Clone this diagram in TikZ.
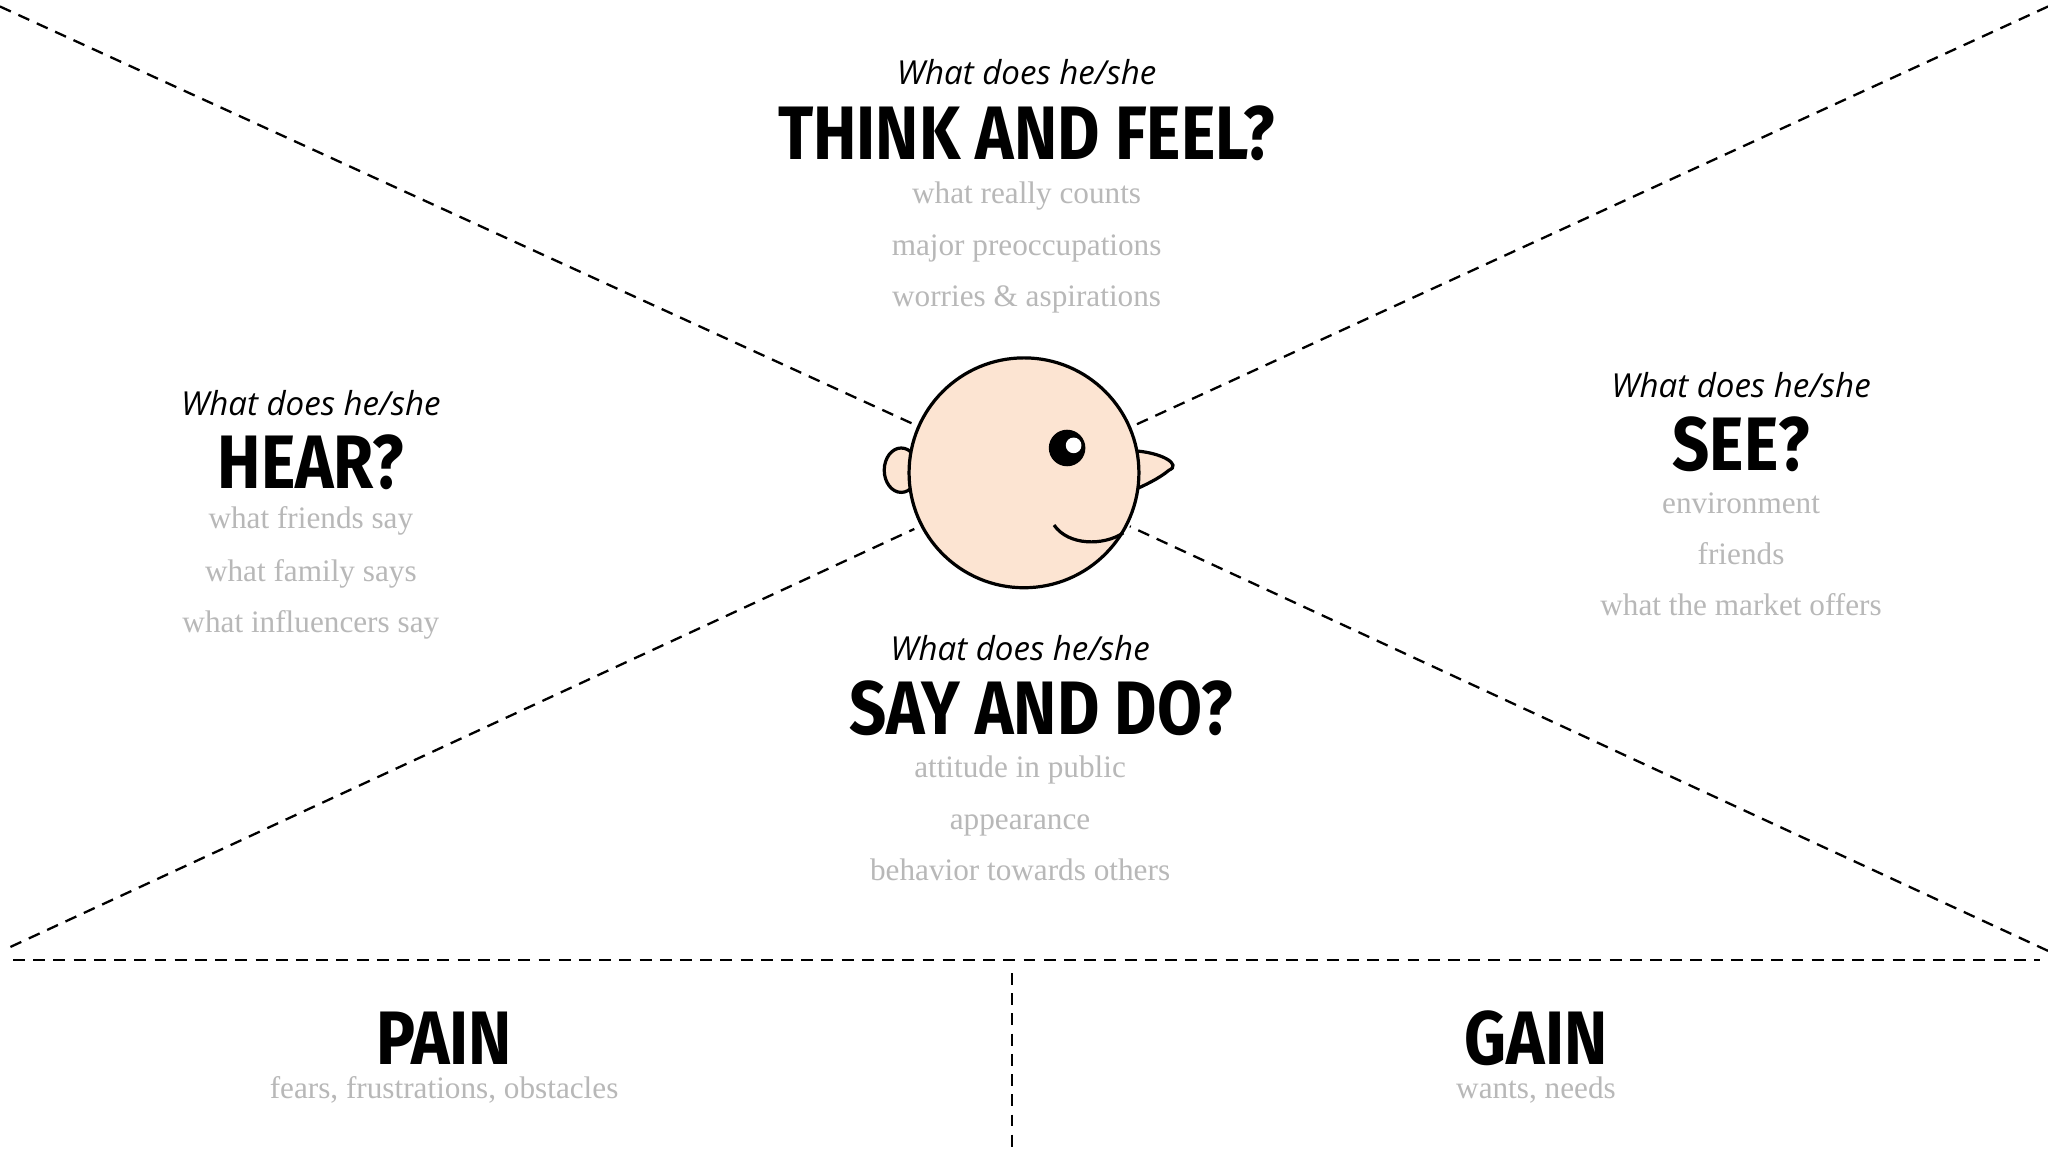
\documentclass[tikz,border=0pt]{standalone}
\usepackage{fontspec}
\setmainfont{Liberation Serif}
\newfontfamily\titlef[FakeStretch=0.86]{Fira Sans}
\newfontfamily\itf{Open Sans}
\definecolor{peach}{HTML}{FCE4D2}
\definecolor{greytxt}{HTML}{B8B8B8}
\tikzset{
 dline/.style={dash pattern=on 2.6pt off 1.8pt,line width=0.5pt},
 qtxt/.style={font=\itf\itshape\fontsize{7.2}{8}\selectfont,inner sep=0,anchor=base},
 ttl/.style={font=\titlef\bfseries\fontsize{16.5}{18}\selectfont,inner sep=0,anchor=base},
 sub/.style={font=\fontsize{6.8}{7}\selectfont,text=greytxt,inner sep=0,anchor=base},
}
\begin{document}
\begin{tikzpicture}[x=0.01cm,y=-0.01cm]
\useasboundingbox[fill=white] (0,0) rectangle (1568,882);
% lines
\coordinate (tl) at (0,5); \coordinate (tr) at (1568,5);
\coordinate (bl) at (8,725); \coordinate (br) at (1568,728);
\coordinate (ftl) at (700,325); \coordinate (ftr) at (870,325);
\coordinate (fbl) at (700,405); \coordinate (fbr) at (865,403);
\draw[dline] (tl)--(ftl); \draw[dline] (tr)--(ftr);
\draw[dline] (bl)--(fbl); \draw[dline] (br)--(fbr);
\coordinate (hl) at (10,735); \coordinate (hr) at (1562,735);
\draw[dline] (hl)--(hr);
\coordinate (vt) at (775,745); \coordinate (vb) at (775,882);
\draw[dline] (vt)--(vb);
% face
\draw[fill=peach,line width=0.7pt] (690,360) ellipse [x radius=13,y radius=17];
\draw[fill=peach,line width=0.7pt] (866,345) .. controls (890,346) and (905,356) .. (895,360) .. controls (888,366) and (876,372) .. (866,376) -- cycle;
\node[circle,draw,line width=0.7pt,fill=peach,minimum size=176*0.01cm,inner sep=0] (face) at (784,362) {};
\fill (817,343) circle (14);
\fill[white] (822,341) circle (6);
\draw[line width=0.7pt] (807,402) .. controls (818,418) and (845,418) .. (860,408);
% texts
\node[qtxt] (q1) at (786,65) {What does he/she};
\node[ttl] (t1) at (786,122) {THINK AND FEEL?};
\node[sub] (s1) at (786,156) {what really counts};
\node[sub] (s1b) at (786,196) {major preoccupations};
\node[sub] (s1c) at (786,235) {worries \& aspirations};
\node[qtxt] (q2) at (238,318) {What does he/she};
\node[ttl] (t2) at (238,374) {HEAR?};
\node[sub] (s2) at (238,405) {what friends say};
\node[sub] (s2b) at (238,445) {what family says};
\node[sub] (s2c) at (238,484) {what influencers say};
\node[qtxt] (q3) at (1333,304) {What does he/she};
\node[ttl] (t3) at (1333,360) {SEE?};
\node[sub] (s3) at (1333,393) {environment};
\node[sub] (s3b) at (1333,432) {friends};
\node[sub] (s3c) at (1333,471) {what the market offers};
\node[qtxt] (q4) at (781,506) {What does he/she};
\node[ttl] (t4) at (797,562) {SAY AND DO?};
\node[sub] (s4) at (781,595) {attitude in public};
\node[sub] (s4b) at (781,635) {appearance};
\node[sub] (s4c) at (781,674) {behavior towards others};
\node[ttl] (t5) at (340,815) {PAIN};
\node[sub] (s5) at (340,841) {fears, frustrations, obstacles};
\node[ttl] (t6) at (1176,815) {GAIN};
\node[sub] (s6) at (1176,841) {wants, needs};
\end{tikzpicture}
\end{document}
